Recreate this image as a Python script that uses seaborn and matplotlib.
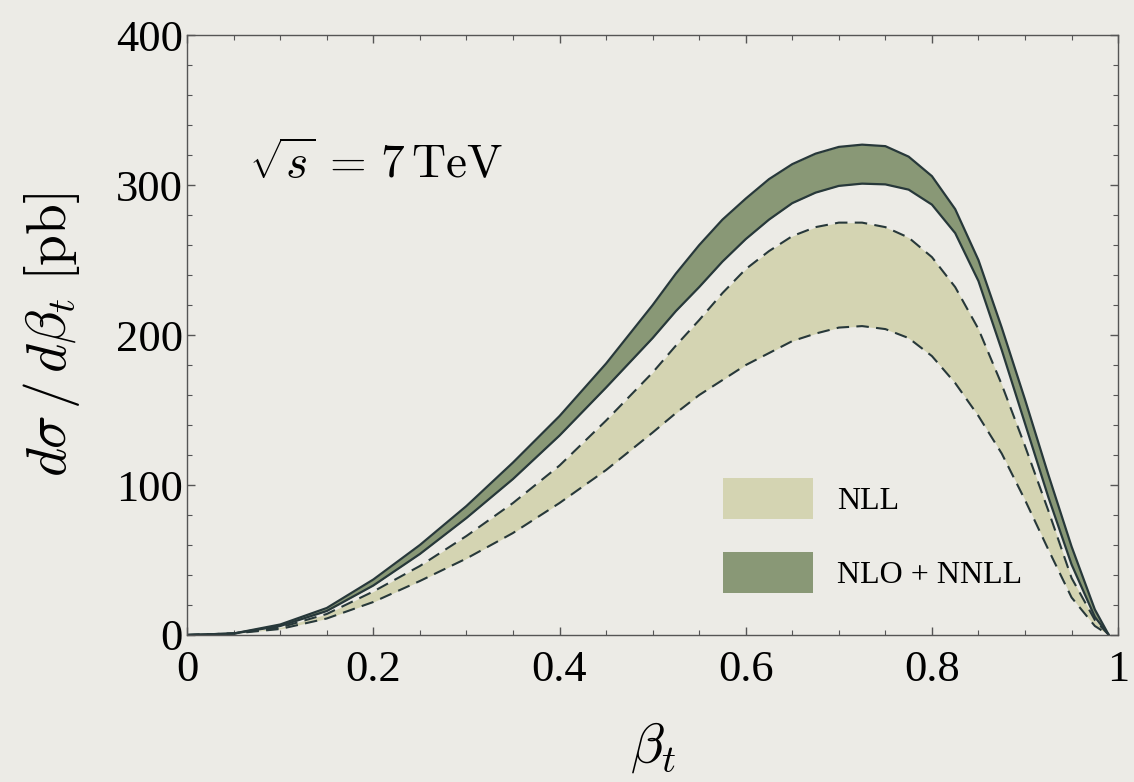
import matplotlib
matplotlib.use("Agg")
import matplotlib.pyplot as plt
import seaborn as sns
import pandas as pd
from matplotlib.patches import Patch
from matplotlib.ticker import MultipleLocator

# beta_t grid and the four band edges (pb)
beta = [0, 0.05, 0.1, 0.15, 0.2, 0.25, 0.3, 0.35, 0.4, 0.45,
        0.5, 0.525, 0.55, 0.575, 0.6, 0.625, 0.65, 0.675, 0.7, 0.725,
        0.75, 0.775, 0.8, 0.825, 0.85, 0.875, 0.9, 0.925, 0.95, 0.975, 0.99]
nnll_hi = [0, 1, 7, 18, 37, 60, 86, 115, 146, 181,
           220, 241, 260, 277, 291, 304, 314, 321, 325.5, 327,
           326, 319, 306, 284, 250, 205, 157, 107, 59, 17, 0]
nnll_lo = [0, 1, 6, 16, 33, 54, 78, 104, 133, 165,
           198, 216, 232, 249, 264, 277, 288, 295, 299.5, 301,
           300.5, 297, 287, 268, 236, 190, 141, 92, 47, 12, 0]
nll_hi = [0, 1, 5, 14, 29, 46, 66, 88, 113, 143,
          175, 193, 210, 228, 244, 256, 266, 272, 275, 275,
          272, 265, 252, 232, 204, 167, 126, 83, 38, 10, 0]
nll_lo = [0, 1, 4, 11, 22, 36, 51, 68, 88, 110,
          135, 148, 160, 170, 180, 188, 196, 201, 205, 206,
          204, 198, 186, 168, 146, 121, 90, 57, 25, 6, 0]

bg = "#ecebe6"
c_nll = "#d4d4b2"
c_nnll = "#899876"
c_line = "#27383a"

sns.set_style("ticks")
plt.rcParams["font.family"] = ["Liberation Serif", "DejaVu Serif"]
plt.rcParams["mathtext.fontset"] = "cm"
plt.rcParams["text.color"] = "black"

df = pd.DataFrame({"beta": beta, "nnll_hi": nnll_hi, "nnll_lo": nnll_lo,
                   "nll_hi": nll_hi, "nll_lo": nll_lo})

fig = plt.figure(figsize=(11.34, 7.82), dpi=100, facecolor=bg)
ax = fig.add_axes([0.165, 0.188, 0.821, 0.767])
ax.set_facecolor(bg)

ax.fill_between(df.beta, df.nll_lo, df.nll_hi, color=c_nll, lw=0)
ax.fill_between(df.beta, df.nnll_lo, df.nnll_hi, color=c_nnll, lw=0)
for col in ["nll_hi", "nll_lo"]:
    sns.lineplot(data=df, x="beta", y=col, ax=ax, color=c_line, lw=1.5,
                 linestyle=(0, (6, 3.5)), solid_joinstyle="round")
for col in ["nnll_hi", "nnll_lo"]:
    sns.lineplot(data=df, x="beta", y=col, ax=ax, color=c_line, lw=1.6,
                 solid_joinstyle="round")

ax.set_xlim(0, 1)
ax.set_ylim(0, 400)
ax.xaxis.set_minor_locator(MultipleLocator(0.05))
ax.yaxis.set_major_locator(MultipleLocator(100))
ax.yaxis.set_minor_locator(MultipleLocator(20))
ax.set_xticks([0, 0.2, 0.4, 0.6, 0.8, 1.0])
ax.set_xticklabels(["0", "0.2", "0.4", "0.6", "0.8", "1"])
ax.tick_params(which="both", direction="in", top=True, right=True,
               color="#555555", labelsize=32, labelcolor="black")
ax.tick_params(axis="x", pad=11)
ax.tick_params(axis="y", pad=3)
ax.tick_params(which="major", length=6, width=1)
ax.tick_params(which="minor", length=3.5, width=0.8)
for s in ax.spines.values():
    s.set_color("#555555")
    s.set_linewidth(1.0)

ax.set_xlabel(r"$\beta_t$", fontsize=40, labelpad=22, color="black")
ax.set_ylabel(r"$d\sigma\,/\,d\beta_t\;[\mathrm{pb}]$", fontsize=40,
              labelpad=24, color="black")

ax.text(0.066, 313, r"$\sqrt{s}\,=\,7\,\mathrm{TeV}$", fontsize=34,
        va="center", ha="left", color="black")

handles = [Patch(facecolor=c_nll, edgecolor="none", label="NLL"),
           Patch(facecolor=c_nnll, edgecolor="none", label="NLO + NNLL")]
ax.legend(handles=handles, loc="upper left", bbox_to_anchor=(0.576, 0.262),
          frameon=False, fontsize=23, handlelength=2.8, handleheight=1.6,
          labelspacing=1.05, handletextpad=0.75, borderpad=0, borderaxespad=0,
          labelcolor="black")

fig.savefig("out.png", dpi=100, facecolor=bg)
